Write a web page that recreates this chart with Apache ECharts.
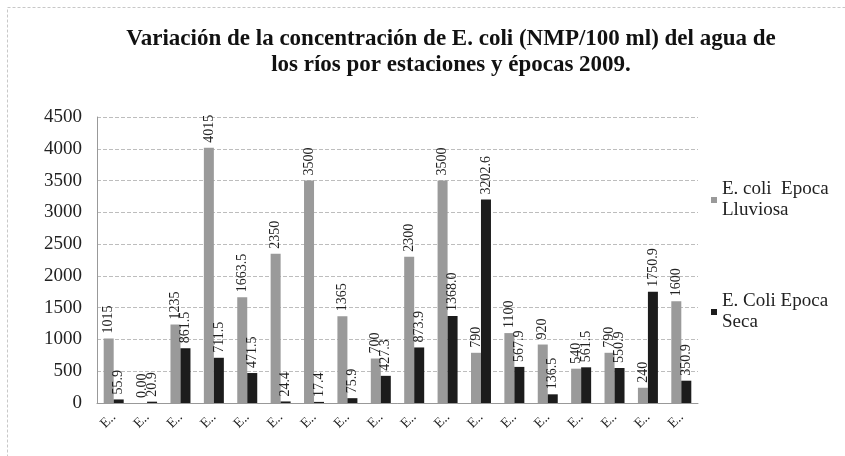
<!DOCTYPE html>
<html>
<head>
<meta charset="utf-8">
<script src="https://cdn.jsdelivr.net/npm/echarts@6/dist/echarts.min.js"></script>
<style>
  html, body { margin: 0; padding: 0; background: #fff; }
  #chart { width: 845px; height: 456px; }
</style>
</head>
<body>
<div id="chart"></div>
<script>
// estaciones (etiquetas truncadas como en el original)
const estaciones = ["E..", "E..", "E..", "E..", "E..", "E..", "E..", "E..", "E..",
  "E..", "E..", "E..", "E..", "E..", "E..", "E..", "E..", "E.."];
const lluviosa = [1015, 0, 1235, 4015, 1663.5, 2350, 3500, 1365, 700,
  2300, 3500, 790, 1100, 920, 540, 790, 240, 1600];
const seca = [55.9, 20.9, 861.5, 711.5, 471.5, 24.4, 17.4, 75.9, 427.3,
  873.9, 1368.0, 3202.6, 567.9, 136.5, 561.5, 550.9, 1750.9, 350.9];
// etiquetas tal como aparecen
const lluviosaTxt = ["1015", "0.00", "1235", "4015", "1663.5", "2350", "3500", "1365", "700",
  "2300", "3500", "790", "1100", "920", "540", "790", "240", "1600"];
const secaTxt = ["55.9", "20.9", "861.5", "711.5", "471.5", "24.4", "17.4", "75.9", "427.3",
  "873.9", "1368.0", "3202.6", "567.9", "136.5", "561.5", "550.9", "1750.9", "350.9"];

const serif = "'Liberation Serif', 'DejaVu Serif', serif";

const myChart = echarts.init(document.getElementById("chart"));

const barLabel = (txt) => ({
  show: true,
  position: "top",
  rotate: 90,
  align: "left",
  verticalAlign: "middle",
  distance: 5,
  fontFamily: serif,
  fontSize: 14,
  color: "#222",
  formatter: (p) => txt[p.dataIndex],
});

const option = {
  backgroundColor: "#fff",
  animation: false,
  title: {
    text: "Variación de la concentración de E. coli (NMP/100 ml) del agua de\nlos ríos por estaciones y épocas 2009.",
    left: 446,
    top: 21,
    textAlign: "center",
    textStyle: {
      fontFamily: serif,
      fontWeight: "bold",
      fontSize: 23,
      lineHeight: 26,
      color: "#111",
    },
  },
  graphic: [
    {
      type: "rect",
      shape: { x: 7.5, y: 7.5, width: 1000, height: 600 },
      style: { fill: "none", stroke: "#c8c8c8", lineWidth: 1, lineDash: [3, 2] },
      silent: true,
    },
  ],
  legend: {
    orient: "vertical",
    left: 706,
    top: 174,
    itemWidth: 6,
    itemHeight: 6,
    itemGap: 70,
    icon: "rect",
    textStyle: {
      fontFamily: serif,
      fontSize: 19,
      lineHeight: 21,
      color: "#222",
    },
    data: ["E. coli  Epoca\nLluviosa", "E. Coli Epoca\nSeca"],
  },
  grid: {
    left: 97,
    right: 147,
    top: 117,
    bottom: 53,
  },
  xAxis: {
    type: "category",
    data: estaciones,
    axisTick: { show: false },
    axisLine: { lineStyle: { color: "#999" } },
    axisLabel: {
      interval: 0,
      rotate: 45,
      margin: 12,
      fontFamily: serif,
      fontSize: 14,
      color: "#222",
    },
  },
  yAxis: {
    type: "value",
    min: 0,
    max: 4500,
    interval: 500,
    axisLine: { show: true, lineStyle: { color: "#999" } },
    axisTick: { show: false },
    axisLabel: {
      margin: 15,
      fontFamily: serif,
      fontSize: 19,
      color: "#222",
      formatter: (v) => String(v),
    },
    splitLine: {
      lineStyle: { type: "dashed", color: "#bdbdbd" },
    },
  },
  series: [
    {
      name: "E. coli  Epoca\nLluviosa",
      type: "bar",
      data: lluviosa,
      barWidth: 10,
      barGap: "0%",
      itemStyle: { color: "#9a9a9a" },
      label: barLabel(lluviosaTxt),
    },
    {
      name: "E. Coli Epoca\nSeca",
      type: "bar",
      data: seca,
      barWidth: 10,
      itemStyle: { color: "#1c1c1c" },
      label: barLabel(secaTxt),
    },
  ],
};

myChart.setOption(option);
window.addEventListener("resize", () => myChart.resize());
</script>
</body>
</html>
